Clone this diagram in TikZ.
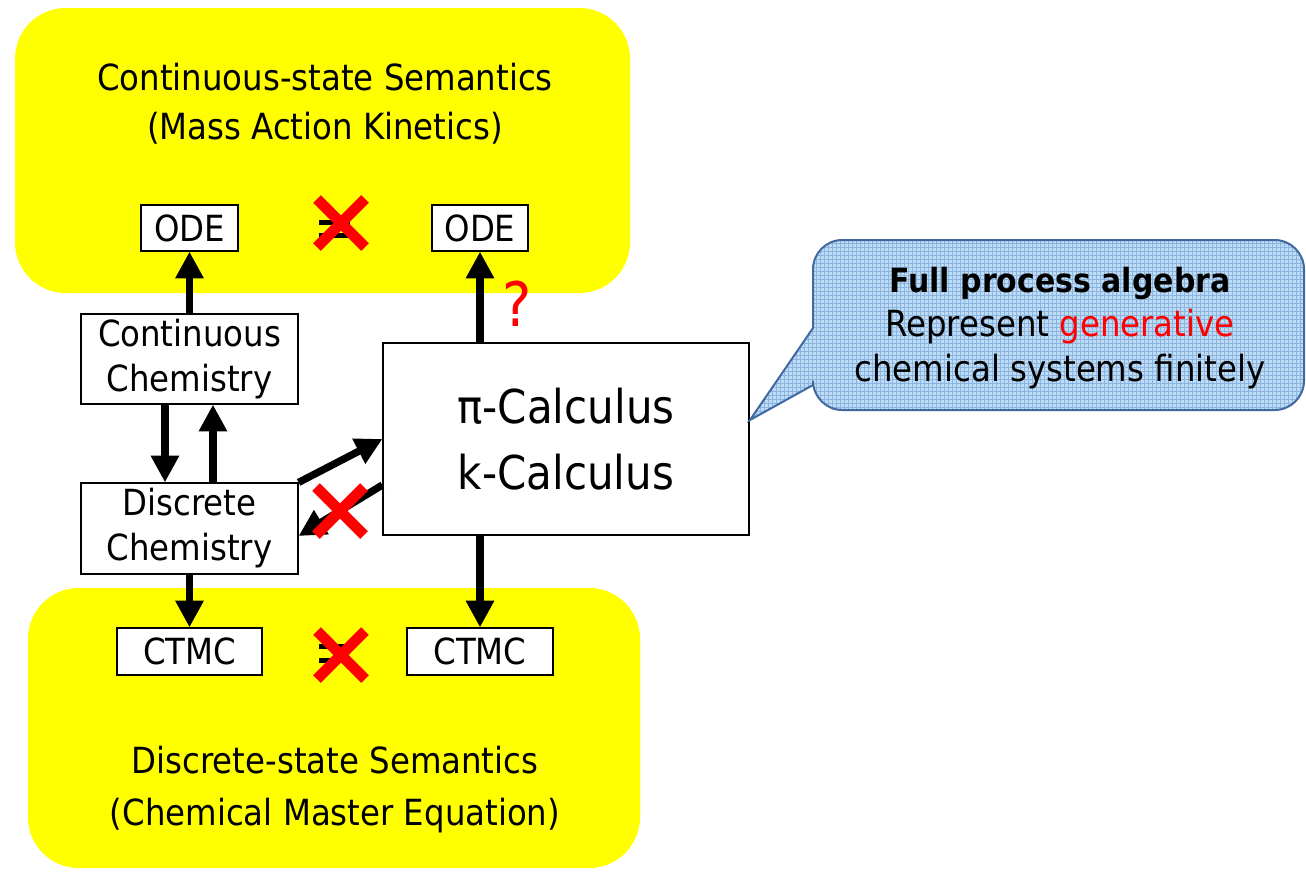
\documentclass[tikz,border=0pt]{standalone}
\usepackage{fontspec}
\setmainfont{DejaVu Sans Condensed}
\usetikzlibrary{arrows.meta,patterns}
\definecolor{ylw}{RGB}{255,255,0}
\definecolor{calloutfill}{RGB}{190,220,245}
\definecolor{calloutgrid}{RGB}{140,180,225}
\definecolor{calloutedge}{RGB}{65,105,160}
\begin{document}
\begin{tikzpicture}[x=0.75pt,y=-0.75pt,
  region/.style={fill=ylw, rounded corners=38pt},
  box/.style={draw, fill=white, line width=0.9pt, inner sep=0pt, align=center, font=\fontsize{27}{33.75}\selectfont},
  arr/.style={line width=5.5pt, -{Triangle[length=20pt,width=20pt]}},
  cross/.style={draw=red, line width=8pt},
  eqbar/.style={draw=black, line width=3.75pt},
  title/.style={align=center, font=\fontsize{27}{36.75}\selectfont},
  callout/.style={draw=calloutedge, line width=1.5pt, preaction={fill=calloutfill}, pattern=grid, pattern color=calloutgrid}
]
\useasboundingbox (0,0) rectangle (1306,871);
% yellow regions
\path[region] (15,8) rectangle (630,293);
\path[region] (28,588) rectangle (640,868);
% titles
\node[title] (ttop) at (325,104) {Continuous-state Semantics\\(Mass Action Kinetics)};
\node[title, font=\fontsize{27}{39}\selectfont] (tbot) at (335,790) {Discrete-state Semantics\\(Chemical Master Equation)};
% boxes
\node[box, minimum width=72.75pt, minimum height=34.5pt] (odeL) at (189.5,228) {ODE};
\node[box, minimum width=72pt, minimum height=34.5pt] (odeR) at (480,228) {ODE};
\node[box, minimum width=162.75pt, minimum height=67.5pt] (cc) at (189.5,359) {Continuous\\Chemistry};
\node[box, minimum width=162.75pt, minimum height=68.25pt] (dc) at (189.5,528.5) {Discrete\\Chemistry};
\node[box, minimum width=274.5pt, minimum height=144pt, font=\fontsize{35}{50}\selectfont] (pi) at (566,439) {π-Calculus\\k-Calculus};
\node[box, minimum width=108.75pt, minimum height=35.25pt] (ctL) at (189.5,651.5) {CTMC};
\node[box, minimum width=109.5pt, minimum height=35.25pt] (ctR) at (480,651.5) {CTMC};
% arrows
\draw[arr] (cc.north) -- (odeL.south);
\draw[arr] (pi.north -| odeR.south) -- (odeR.south);
\draw[arr] ([xshift=-18.4pt]cc.south) -- ([xshift=-18.4pt]dc.north);
\draw[arr] ([xshift=17.6pt]dc.north) -- ([xshift=17.6pt]cc.south);
\draw[arr] (dc.north east) -- (pi.west);
\draw[arr] ([yshift=-34.5pt]pi.west) -- ([yshift=-5.6pt]dc.east);
\draw[arr] (dc.south) -- (ctL.north);
\draw[arr] (pi.south -| ctR.north) -- (ctR.north);
% question mark
\node[text=red, font=\fontsize{46}{46}\selectfont, inner sep=0pt] (q) at (517,304) {?};
% not-equal marks
\coordinate (neTop) at (341,223);
\coordinate (neBot) at (341,655);
\coordinate (neMid) at (340,511);
\draw[eqbar] (319,222.5) -- (350,222.5);
\draw[eqbar] (319,235.5) -- (350,235.5);
\draw[eqbar] (319,646.5) -- (350,646.5);
\draw[eqbar] (319,660) -- (350,660);
\foreach \c in {neTop,neBot,neMid}{
  \draw[cross] ([shift={(-24,-24)}]\c) -- ([shift={(24,24)}]\c);
  \draw[cross] ([shift={(-24,24)}]\c) -- ([shift={(24,-24)}]\c);
}
% callout
\draw[callout] (813,328) [rounded corners=22pt] -- (813,240) -- (1304,240) -- (1304,410) -- (813,410) [sharp corners] -- (813,385) -- (750,420) -- cycle;
\node[align=center, font=\fontsize{27}{33.4}\selectfont] (note) at (1060,328) {{\bfseries\fontsize{25}{33.4}\selectfont Full process algebra}\\Represent \textcolor{red}{generative}\\chemical systems finitely};
\end{tikzpicture}
\end{document}
